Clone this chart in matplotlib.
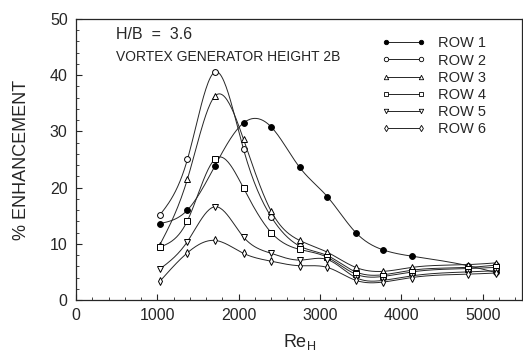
import numpy as np
import matplotlib
matplotlib.use("Agg")
import matplotlib.pyplot as plt

plt.rcParams['font.family'] = ['Liberation Sans', 'DejaVu Sans']

# Reynolds numbers (shared by every row)
re_h = [1030, 1370, 1710, 2060, 2400, 2750, 3090, 3440, 3780, 4130, 4820, 5160]

# % enhancement per row
row1 = [13.6, 16.0, 23.9, 31.5, 30.8, 23.6, 18.4, 12.0, 8.9, 7.8, 6.1, 4.9]
row2 = [15.1, 25.0, 40.6, 26.8, 14.8, 9.6, 7.9, 5.0, 4.5, 5.3, 5.8, 6.2]
row3 = [9.8, 21.5, 36.3, 28.6, 15.8, 10.6, 8.5, 5.8, 5.1, 5.8, 6.3, 6.6]
row4 = [9.4, 14.1, 25.1, 19.9, 12.0, 9.0, 7.6, 4.6, 4.2, 5.0, 5.6, 5.8]
row5 = [5.5, 10.4, 16.6, 11.2, 8.3, 7.1, 7.2, 4.0, 3.5, 4.3, 5.0, 5.2]
row6 = [3.3, 8.4, 10.6, 8.3, 6.9, 6.1, 5.8, 3.5, 3.2, 4.0, 4.6, 4.8]

labels = ['ROW 1', 'ROW 2', 'ROW 3', 'ROW 4', 'ROW 5', 'ROW 6']

ink = '#262626'


def natural_spline(x, y, n=300):
    # plain natural cubic spline, only used to draw the smooth curve
    x = np.asarray(x, float)
    y = np.asarray(y, float)
    k = len(x)
    h = np.diff(x)
    A = np.zeros((k, k))
    b = np.zeros(k)
    A[0, 0] = 1
    A[-1, -1] = 1
    for i in range(1, k - 1):
        A[i, i - 1] = h[i - 1]
        A[i, i] = 2 * (h[i - 1] + h[i])
        A[i, i + 1] = h[i]
        b[i] = 3 * ((y[i + 1] - y[i]) / h[i] - (y[i] - y[i - 1]) / h[i - 1])
    c = np.linalg.solve(A, b)
    xs = np.linspace(x[0], x[-1], n)
    idx = np.clip(np.searchsorted(x, xs) - 1, 0, k - 2)
    dx = xs - x[idx]
    bb = (y[idx + 1] - y[idx]) / h[idx] - h[idx] * (2 * c[idx] + c[idx + 1]) / 3
    dd = (c[idx + 1] - c[idx]) / (3 * h[idx])
    ys = y[idx] + bb * dx + c[idx] * dx ** 2 + dd * dx ** 3
    return xs, ys


fig = plt.figure(figsize=(5.23, 3.51), dpi=100)
ax = fig.add_axes([0.1453, 0.1453, 0.8537, 0.8006])

styles = [
    dict(marker='o', mfc='black'),
    dict(marker='o', mfc='white'),
    dict(marker='^', mfc='white'),
    dict(marker='s', mfc='white'),
    dict(marker='v', mfc='white'),
    dict(marker='d', mfc='white'),
]

for vals, lab, st in zip([row1, row2, row3, row4, row5, row6], labels, styles):
    xs, ys = natural_spline(re_h, vals)
    ax.plot(xs, ys, color=ink, lw=0.7)
    ax.plot(re_h, vals, ls='none', color='black', mec='black', mew=0.7, ms=4.2, **st)
    # legend proxy
    ax.plot([], [], color=ink, lw=0.7, mec='black', mew=0.6, ms=3.2, label=lab, **st)

ax.set_xlim(0, 5490)
ax.set_ylim(0, 50)
ax.set_xticks([0, 1000, 2000, 3000, 4000, 5000])
ax.set_xticks(np.arange(0, 5500, 200), minor=True)
ax.set_yticks([0, 10, 20, 30, 40, 50])
ax.set_yticks(np.arange(0, 51, 2), minor=True)
ax.tick_params(which='both', direction='in', labelsize=11.5, colors=ink)
ax.tick_params(which='major', length=4, pad=6)
ax.tick_params(which='minor', length=2)
for s in ax.spines.values():
    s.set_linewidth(0.9)
    s.set_color(ink)

ax.set_xlabel('Re$_\\mathregular{H}$', fontsize=13, labelpad=6, color=ink)
ax.set_ylabel('% ENHANCEMENT', fontsize=13, labelpad=14, color=ink)

ax.text(0.09, 0.946, 'H/B  =  3.6', transform=ax.transAxes, fontsize=11.5,
        va='center', color=ink)
ax.text(0.09, 0.865, 'VORTEX GENERATOR HEIGHT 2B', transform=ax.transAxes,
        fontsize=10, va='center', color=ink)

handles, labs = ax.get_legend_handles_labels()
ax.legend(handles[-6:], labs[-6:], loc='upper left', bbox_to_anchor=(0.655, 0.985),
          frameon=False, numpoints=2, handlelength=3.0, handletextpad=0.9,
          labelspacing=0.22, fontsize=10.5, labelcolor=ink)

fig.savefig('out.png', dpi=100)
